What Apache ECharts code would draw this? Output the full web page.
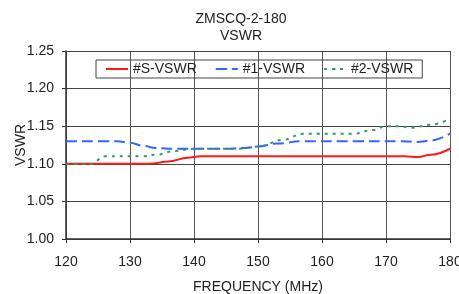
<!DOCTYPE html>
<html>
<head>
<meta charset="utf-8">
<script src="https://cdn.jsdelivr.net/npm/echarts@6/dist/echarts.min.js"></script>
<style>
  html, body { margin: 0; padding: 0; background: #fff; }
  #chart { width: 459px; height: 294px; }
</style>
</head>
<body>
<div id="chart"></div>
<script>
// values, [MHz, VSWR]
var sVswr = [[120,1.100],[130,1.100],[133,1.100],[136,1.103],[139,1.108],[141,1.110],[150,1.110],
             [160,1.110],[170,1.110],[173,1.110],[175,1.109],[177,1.112],[180,1.120]];
var vswr1 = [[120,1.130],[128,1.130],[130,1.128],[132,1.124],[134,1.121],[137,1.120],[145,1.120],
             [148,1.121],[150,1.123],[153,1.127],[157,1.130],[165,1.130],[172,1.130],[175,1.129],
             [177,1.131],[180,1.140]];
var vswr2 = [[120,1.100],[124,1.100],[126,1.110],[132,1.110],[134,1.112],[137,1.117],[140,1.120],
             [147,1.120],[150,1.123],[154,1.132],[157,1.140],[165,1.140],[168,1.145],[170,1.150],
             [172,1.150],[174,1.148],[177,1.152],[180,1.160]];
var seriesNames = ['#S-VSWR', '#1-VSWR', '#2-VSWR'];

var font = 'Liberation Sans, Arial, sans-serif';
var chart = echarts.init(document.getElementById('chart'));
var option = {
  animation: false,
  title: {
    text: 'ZMSCQ-2-180\nVSWR',
    left: 236, top: 6, textAlign: 'center',
    textStyle: { fontFamily: font, fontSize: 14, fontWeight: 'normal', color: '#222', lineHeight: 17 }
  },
  legend: {
    data: seriesNames,
    left: 96, top: 60,
    padding: [2, 9, 2, 9],
    itemGap: 18,
    itemWidth: 22, itemHeight: 2,
    borderColor: '#444', borderWidth: 1,
    textStyle: { fontFamily: font, fontSize: 14, color: '#222' }
  },
  grid: { left: 66, right: 9, top: 51, bottom: 55, outerBoundsMode: 'none' },
  xAxis: {
    type: 'value', min: 120, max: 180, interval: 10,
    name: 'FREQUENCY (MHz)', nameLocation: 'middle', nameGap: 41, nameMoveOverlap: false,
    nameTextStyle: { fontFamily: font, fontSize: 14, color: '#222' },
    axisLine: { lineStyle: { color: '#333', width: 1.5 } },
    axisTick: { length: 4, lineStyle: { color: '#333' } },
    axisLabel: { fontFamily: font, fontSize: 14, color: '#222', margin: 16 },
    splitLine: { lineStyle: { color: '#555', width: 1 } }
  },
  yAxis: {
    type: 'value', min: 1.00, max: 1.25, interval: 0.05,
    name: 'VSWR', nameLocation: 'middle', nameGap: 38, nameRotate: 90, nameMoveOverlap: false,
    nameTextStyle: { fontFamily: font, fontSize: 14, color: '#222' },
    axisLine: { show: true, lineStyle: { color: '#333', width: 1.5 } },
    axisTick: { show: true, length: 4, lineStyle: { color: '#333' } },
    axisLabel: { fontFamily: font, fontSize: 14, color: '#222', margin: 12,
      formatter: function (v) { return v.toFixed(2); } },
    splitLine: { lineStyle: { color: '#444', width: 1 } }
  },
  series: [
    { name: seriesNames[0], type: 'line', data: sVswr, symbol: 'none', smooth: 0.4, smoothMonotone: 'x',
      itemStyle: { color: '#ff1a1a' }, lineStyle: { color: '#ff1a1a', width: 2 } },
    { name: seriesNames[1], type: 'line', data: vswr1, symbol: 'none', smooth: 0.4, smoothMonotone: 'x',
      itemStyle: { color: '#3366ff' }, lineStyle: { color: '#3366ff', width: 2, type: [11, 5] } },
    { name: seriesNames[2], type: 'line', data: vswr2, symbol: 'none', smooth: 0.4, smoothMonotone: 'x',
      itemStyle: { color: '#339966' }, lineStyle: { color: '#339966', width: 2, type: [3, 5] } }
  ]
};
chart.setOption(option);
</script>
</body>
</html>
